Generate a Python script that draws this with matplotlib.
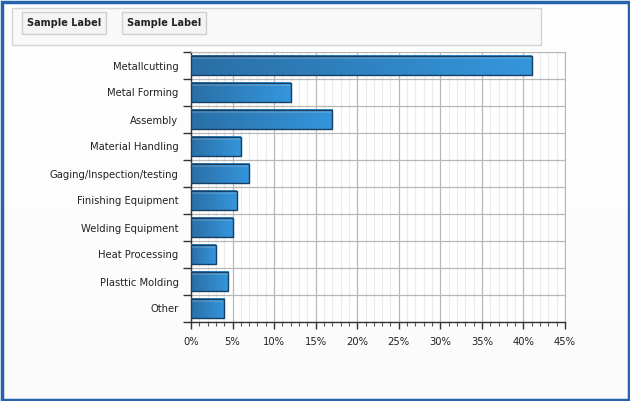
import numpy as np
import matplotlib
matplotlib.use("Agg")
import matplotlib.pyplot as plt
from matplotlib.patches import Rectangle
from matplotlib.ticker import MultipleLocator, FuncFormatter

# data
categories = ["Metallcutting", "Metal Forming", "Assembly", "Material Handling",
              "Gaging/Inspection/testing", "Finishing Equipment", "Welding Equipment",
              "Heat Processing", "Plasttic Molding", "Other"]
values = [41, 12, 17, 6, 7, 5.5, 5, 3, 4.5, 4]
legend_labels = ["Sample Label", "Sample Label"]

W, H = 630, 401
fig = plt.figure(figsize=(W / 100, H / 100), dpi=100)

# background gradient + blue frame
bg = fig.add_axes([0, 0, 1, 1], zorder=-10)
bg.set_axis_off()
grad = np.linspace(1.0, 0.985, 256).reshape(-1, 1)
bg.imshow(np.dstack([grad, grad, grad]), aspect="auto", extent=[0, W, H, 0])
bg.set_xlim(0, W)
bg.set_ylim(H, 0)
bg.add_patch(Rectangle((1.5, 1.5), W - 3, H - 3, fill=False, ec="#2563ae", lw=2.5))

# legend box
bg.add_patch(Rectangle((12, 8), 529, 37, fc="#f9f9f9", ec="#d4d4d4", lw=1))
for i, lab in enumerate(legend_labels):
    x0 = 22 + i * 100
    bg.add_patch(Rectangle((x0, 12), 84, 22, fc="#f4f4f4", ec="#d0d0d0", lw=1))
    bg.text(x0 + 42, 23.5, lab, ha="center", va="center", fontsize=7,
            fontweight="bold", color="#222222")

ax = fig.add_axes([191 / W, 1 - 322 / H, 374 / W, 270 / H])
ax.set_facecolor("white")

n = len(categories)

# gradient bars
bar_h = 0.74
cmap = matplotlib.colors.LinearSegmentedColormap.from_list("b", ["#2a6fa6", "#3596dc"])
gx = np.linspace(0, 1, 256).reshape(1, -1)
for i, v in enumerate(values):
    y0 = i + 0.5 - bar_h / 2
    ax.imshow(gx, cmap=cmap, aspect="auto", extent=[0, v, y0 + bar_h, y0],
              zorder=3, interpolation="bilinear")
    ax.add_patch(Rectangle((0, y0), v, bar_h, fill=False, ec="#173f63", lw=1.0, zorder=4))
    ax.add_patch(Rectangle((0.1, y0 + 0.04), v - 0.2, 0.08, fc="white", alpha=0.15,
                           ec="none", zorder=4))

ax.set_xlim(0, 45)
ax.set_ylim(n, 0)

# grid
ax.xaxis.set_major_locator(MultipleLocator(5))
ax.xaxis.set_minor_locator(MultipleLocator(1))
ax.xaxis.set_major_formatter(FuncFormatter(lambda v, p: f"{v:.0f}%"))
ax.set_yticks(np.arange(n + 1))
ax.set_yticklabels([])
ax.set_yticks(np.arange(n) + 0.5, minor=True)
ax.set_yticklabels(categories, minor=True)
ax.grid(True, which="major", axis="both", color="#b8b8b8", lw=0.9, zorder=1)
ax.grid(True, which="minor", axis="x", color="#ebebeb", lw=0.8, zorder=0)
ax.set_axisbelow(True)

ax.tick_params(axis="y", which="major", length=6, width=1, color="#333333", direction="out")
ax.tick_params(axis="y", which="minor", length=0, labelsize=7.2, pad=9, labelcolor="#222222")
ax.tick_params(axis="x", which="major", length=5, width=1, color="#333333",
               labelsize=7.2, labelcolor="#222222", pad=6)
ax.tick_params(axis="x", which="minor", length=3, width=0.8, color="#555555")

for s in ["top", "right"]:
    ax.spines[s].set_color("#b8b8b8")
for s in ["left", "bottom"]:
    ax.spines[s].set_color("#333333")
    ax.spines[s].set_linewidth(1)

fig.savefig("out.png", dpi=100)
